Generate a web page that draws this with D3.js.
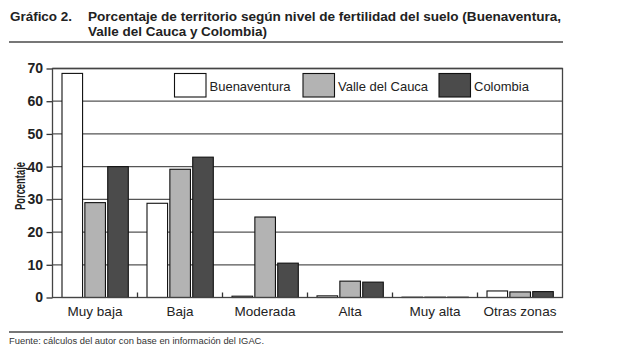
<!DOCTYPE html>
<html><head><meta charset="utf-8">
<script src="https://cdn.jsdelivr.net/npm/d3@7"></script>
<style>body{margin:0;background:#fff}svg{display:block}</style>
</head><body>
<script>
const categories = ["Muy baja","Baja","Moderada","Alta","Muy alta","Otras zonas"];
const seriesNames = ["Buenaventura","Valle del Cauca","Colombia"];
const buenaventura = [68.5, 28.8, 0.4, 0.5, 0.1, 2.0];
const valle = [29.0, 39.2, 24.6, 5.0, 0.1, 1.7];
const colombia = [40.0, 42.9, 10.5, 4.7, 0.1, 1.8];
const yTicks = [0,10,20,30,40,50,60,70];
const colors = ["#ffffff","#b3b3b3","#4b4b4b"];

const W=617,H=359;
const svg=d3.select("body").append("svg").attr("width",W).attr("height",H);
const font="Liberation Sans, Arial, sans-serif";

// title
svg.append("text").attr("x",10).attr("y",21).attr("font-family",font).attr("font-weight","bold")
  .attr("font-size",12).attr("fill","#222").attr("textLength",62).attr("lengthAdjust","spacingAndGlyphs").text("Gráfico 2.");
svg.append("text").attr("x",88).attr("y",21).attr("font-family",font).attr("font-weight","bold")
  .attr("font-size",12).attr("fill","#222").attr("textLength",473).attr("lengthAdjust","spacingAndGlyphs")
  .text("Porcentaje de territorio según nivel de fertilidad del suelo (Buenaventura,");
svg.append("text").attr("x",88).attr("y",36).attr("font-family",font).attr("font-weight","bold")
  .attr("font-size",12).attr("fill","#222").attr("textLength",179).attr("lengthAdjust","spacingAndGlyphs")
  .text("Valle del Cauca y Colombia)");
svg.append("line").attr("x1",9).attr("x2",563).attr("y1",42).attr("y2",42).attr("stroke","#777").attr("stroke-width",2);

const L=52.5,R=562.5,T=68.5,B=297.5;
const y=d3.scaleLinear().domain([0,70]).range([B,T]);
const x0=d3.scaleBand().domain(categories).range([L,R]).padding(0);
const x1=d3.scaleBand().domain(seriesNames).range([9.5,75.8]).paddingInner(0.1).paddingOuter(0);

// gridlines
svg.append("g").selectAll("line").data(yTicks.filter(d=>d>0)).join("line")
  .attr("x1",L).attr("x2",R).attr("y1",d=>y(d)).attr("y2",d=>y(d))
  .attr("stroke","#555").attr("stroke-width",1.3);

// y axis
const ya=svg.append("g").attr("transform",`translate(${L},0)`)
  .call(d3.axisLeft(y).tickValues(yTicks).tickSize(6).tickPadding(3));
ya.select(".domain").remove();
ya.selectAll(".tick line").attr("stroke","#333").attr("stroke-width",1.3);
ya.selectAll(".tick text").attr("font-family",font).attr("font-size",14).attr("fill","#222").attr("font-weight","bold").attr("dx","-0.5");

// bars
const data=[buenaventura,valle,colombia];
const g=svg.append("g");
categories.forEach((c,i)=>{
  seriesNames.forEach((s,j)=>{
    const v=data[j][i];
    g.append("rect").attr("x",x0(c)+x1(s)).attr("width",x1.bandwidth())
      .attr("y",y(v)).attr("height",Math.max(0.3,B-y(v)))
      .attr("fill",colors[j]).attr("stroke","#111").attr("stroke-width",1.1);
  });
});

// frame
svg.append("rect").attr("x",L).attr("y",T).attr("width",R-L).attr("height",B-T)
  .attr("fill","none").attr("stroke","#444").attr("stroke-width",1.3);

// x ticks (inward at boundaries)
svg.append("g").selectAll("line").data(categories.slice(1)).join("line")
  .attr("x1",d=>x0(d)).attr("x2",d=>x0(d)).attr("y1",B).attr("y2",B-5)
  .attr("stroke","#333").attr("stroke-width",1.3);

// x labels
const xa=svg.append("g").attr("transform",`translate(0,${B})`).call(d3.axisBottom(x0).tickSize(0).tickPadding(6));
xa.select(".domain").remove();
xa.selectAll(".tick text").attr("font-family",font).attr("font-size",13.5).attr("fill","#222").attr("dy","0.95em");

// y label
svg.append("text").attr("transform","translate(25,186) rotate(-90)").attr("text-anchor","middle")
  .attr("font-family",font).attr("font-weight","bold").attr("font-size",14).attr("fill","#222")
  .attr("textLength",48).attr("lengthAdjust","spacingAndGlyphs").text("Porcentaje");

// legend
const legX=[174.5,303,439];
seriesNames.forEach((s,j)=>{
  svg.append("rect").attr("x",legX[j]).attr("y",73.5).attr("width",31.5).attr("height",23.5)
    .attr("fill",colors[j]).attr("stroke","#111").attr("stroke-width",1.1);
  svg.append("text").attr("x",legX[j]+35).attr("y",91).attr("font-family",font).attr("font-size",13)
    .attr("fill","#222").text(s);
});

// footer
svg.append("line").attr("x1",9).attr("x2",563).attr("y1",332).attr("y2",332).attr("stroke","#777").attr("stroke-width",2);
svg.append("text").attr("x",9).attr("y",344).attr("font-family",font).attr("font-size",8.5).attr("fill","#333")
  .attr("textLength",255).attr("lengthAdjust","spacingAndGlyphs")
  .text("Fuente: cálculos del autor con base en información del IGAC.");
</script>
</body></html>
